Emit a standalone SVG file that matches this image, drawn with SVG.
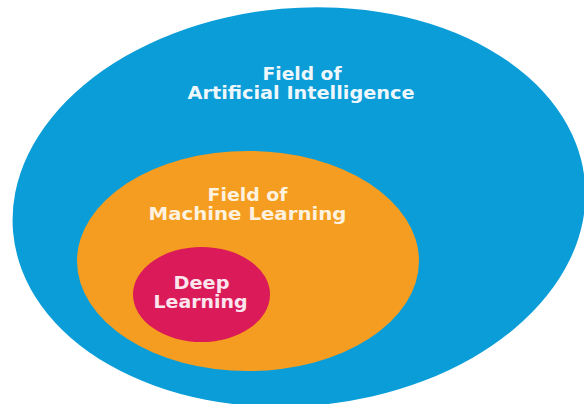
<svg xmlns="http://www.w3.org/2000/svg" width="584" height="404" viewBox="0 0 584 404">
  <style>
    .lbl { font-family: "DejaVu Sans", "Open Sans", sans-serif; font-weight: bold; font-size: 17.5px; text-anchor: middle; }
    .ai { fill: #eef7fc; }
    .ml { fill: #fdf1df; }
    .dl { fill: #fbe6ee; }
  </style>
  <rect width="584" height="404" fill="#ffffff"/>
  <g id="ai">
    <ellipse cx="299" cy="207" rx="287" ry="199" transform="rotate(-5 299 207)" fill="#0a9dd8"/>
    <text class="lbl ai" x="302" y="79.5" textLength="79" lengthAdjust="spacingAndGlyphs">Field of</text>
    <text class="lbl ai" x="301" y="98.5" textLength="227" lengthAdjust="spacingAndGlyphs">Artificial Intelligence</text>
  </g>
  <g id="ml">
    <ellipse cx="248" cy="261" rx="171" ry="110" fill="#f59d20"/>
    <text class="lbl ml" x="247.5" y="201" textLength="80" lengthAdjust="spacingAndGlyphs">Field of</text>
    <text class="lbl ml" x="247.5" y="220" textLength="198" lengthAdjust="spacingAndGlyphs">Machine Learning</text>
  </g>
  <g id="dl">
    <ellipse cx="201.5" cy="294.5" rx="68.5" ry="47.5" fill="#db1a5a"/>
    <text class="lbl dl" x="201.5" y="289" textLength="56" lengthAdjust="spacingAndGlyphs">Deep</text>
    <text class="lbl dl" x="200.5" y="308" textLength="94" lengthAdjust="spacingAndGlyphs">Learning</text>
  </g>
  <g id="connectors"/>
</svg>
